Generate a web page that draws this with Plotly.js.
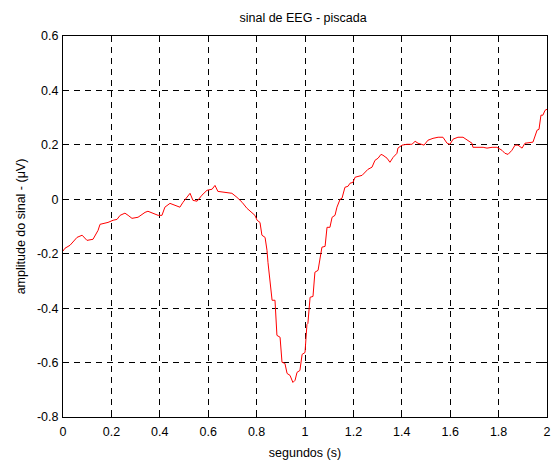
<!DOCTYPE html>
<html>
<head>
<meta charset="utf-8">
<script src="https://cdn.plot.ly/plotly-3.0.1.min.js"></script>
<style>html,body{margin:0;padding:0;background:#fff;}#chart{width:553px;height:462px;}</style>
</head>
<body>
<div id="chart"></div>
<script>
const tempo = [0,0.008,0.029,0.058,0.079,0.099,0.124,0.145,0.153,0.186,0.207,0.223,0.236,0.256,0.269,0.285,0.310,0.339,0.351,0.372,0.393,0.409,0.421,0.442,0.463,0.483,0.496,0.512,0.525,0.537,0.554,0.574,0.595,0.616,0.628,0.640,0.669,0.698,0.719,0.740,0.760,0.781,0.793,0.802,0.814,0.822,0.835,0.843,0.847,0.864,0.876,0.884,0.897,0.905,0.917,0.926,0.938,0.950,0.959,0.967,0.979,0.988,1.000,1.008,1.012,1.021,1.033,1.041,1.054,1.070,1.083,1.091,1.103,1.112,1.124,1.132,1.145,1.153,1.165,1.178,1.186,1.198,1.207,1.236,1.248,1.260,1.277,1.289,1.302,1.314,1.322,1.339,1.351,1.364,1.380,1.384,1.401,1.421,1.442,1.455,1.467,1.492,1.508,1.529,1.550,1.570,1.587,1.599,1.612,1.632,1.653,1.674,1.690,1.694,1.715,1.736,1.752,1.773,1.793,1.814,1.826,1.839,1.855,1.868,1.880,1.897,1.909,1.930,1.942,1.959,1.967,1.975,1.983,1.992,2.000];
const amplitude = [-0.190,-0.180,-0.169,-0.140,-0.132,-0.151,-0.147,-0.114,-0.092,-0.085,-0.077,-0.074,-0.059,-0.051,-0.059,-0.070,-0.066,-0.048,-0.044,-0.051,-0.059,-0.059,-0.029,-0.015,-0.022,-0.029,-0.011,0.007,0.022,-0.004,-0.007,0.015,0.033,0.037,0.051,0.029,0.026,0.022,0.007,-0.011,-0.033,-0.048,-0.059,-0.077,-0.085,-0.132,-0.140,-0.188,-0.232,-0.371,-0.371,-0.500,-0.507,-0.599,-0.603,-0.640,-0.647,-0.673,-0.665,-0.636,-0.629,-0.570,-0.563,-0.460,-0.456,-0.360,-0.357,-0.268,-0.261,-0.176,-0.173,-0.103,-0.103,-0.066,-0.059,-0.029,0.000,0.004,0.044,0.048,0.059,0.062,0.081,0.088,0.099,0.110,0.118,0.143,0.151,0.165,0.162,0.151,0.136,0.154,0.169,0.188,0.199,0.202,0.202,0.213,0.206,0.199,0.217,0.224,0.228,0.228,0.206,0.202,0.221,0.228,0.228,0.217,0.206,0.191,0.191,0.191,0.188,0.191,0.191,0.180,0.169,0.165,0.180,0.199,0.199,0.188,0.206,0.210,0.210,0.254,0.257,0.309,0.309,0.327,0.331];
const xTickVals = [0,0.2,0.4,0.6,0.8,1,1.2,1.4,1.6,1.8,2];
const xTickText = ["0","0.2","0.4","0.6","0.8","1","1.2","1.4","1.6","1.8","2"];
const yTickVals = [-0.8,-0.6,-0.4,-0.2,0,0.2,0.4,0.6];
const yTickText = ["-0.8","-0.6","-0.4","-0.2","0","0.2","0.4","0.6"];

const fontFam = "Liberation Sans, Arial, sans-serif";
const axisCommon = {
  showline: true, linecolor: "#000", linewidth: 1, mirror: "ticks",
  ticks: "inside", ticklen: 5, tickcolor: "#000", tickwidth: 1,
  showgrid: true, gridcolor: "#000", gridwidth: 1, griddash: "6px,5px",
  zeroline: false, tickfont: {family: fontFam, size: 12.5, color: "#000"},
  tickmode: "array"
};
const layout = {
  width: 553, height: 462,
  margin: {l: 63, r: 6, t: 36, b: 45},
  paper_bgcolor: "#fff", plot_bgcolor: "#fff",
  showlegend: false,
  title: {text: "sinal de EEG - piscada", font: {family: fontFam, size: 12.5, color: "#000"}, x: 0.548, xanchor: "center", y: 0.962, yanchor: "middle"},
  xaxis: Object.assign({}, axisCommon, {range: [0, 2], tickvals: xTickVals, ticktext: xTickText, ticklabelstandoff: 3,
    title: {text: "segundos (s)", font: {family: fontFam, size: 12.5, color: "#000"}, standoff: 10}}),
  yaxis: Object.assign({}, axisCommon, {range: [-0.8, 0.6], tickvals: yTickVals, ticktext: yTickText, ticklabelstandoff: 1,
    title: {text: "amplitude do sinal - (μV)", font: {family: fontFam, size: 12.5, color: "#000"}, standoff: 8}})
};
Plotly.newPlot("chart", [{
  x: tempo, y: amplitude, type: "scatter", mode: "lines",
  line: {color: "#ff0000", width: 1}, hoverinfo: "skip"
}], layout, {staticPlot: true, displayModeBar: false});
</script>
</body>
</html>
